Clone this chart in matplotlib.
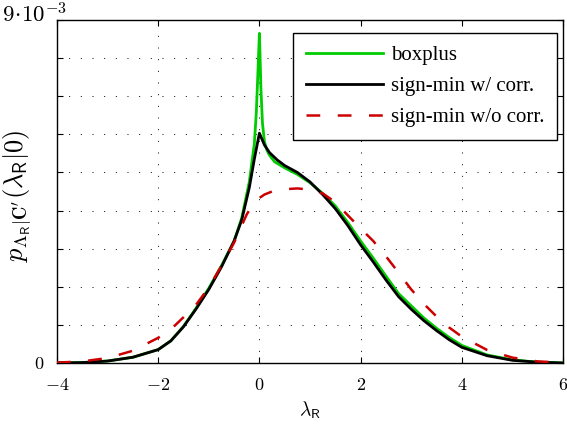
import numpy as np
import matplotlib
matplotlib.use("Agg")
import matplotlib.pyplot as plt
from matplotlib import rcParams

rcParams['mathtext.fontset'] = 'cm'
rcParams['font.family'] = ['Liberation Serif', 'DejaVu Serif']

# ===== data (values in units of 1e-3) =====
x_box = [-4, -3.5, -3, -2.5, -2, -1.75, -1.5, -1.25, -1, -0.75, -0.5, -0.35, -0.2,
         -0.1, -0.06, -0.03, -0.01, 0, 0.01, 0.03, 0.06, 0.1, 0.15, 0.2, 0.3, 0.5,
         0.75, 1.0, 1.25, 1.5, 1.75, 2, 2.25, 2.5, 2.75, 3, 3.25, 3.5, 3.75, 4,
         4.5, 5, 5.5, 6]
y_box = [0.0, 0.01, 0.05, 0.15, 0.35, 0.58, 0.96, 1.44, 1.96, 2.55, 3.2, 3.8, 4.75,
         5.75, 6.6, 7.6, 8.3, 8.65, 8.2, 7.2, 6.3, 5.8, 5.58, 5.45, 5.28, 5.12,
         4.95, 4.73, 4.45, 4.12, 3.68, 3.2, 2.75, 2.28, 1.82, 1.5, 1.18, 0.91, 0.67, 0.46,
         0.21, 0.08, 0.02, 0.0]

x_corr = [-4, -3.5, -3, -2.5, -2, -1.75, -1.5, -1.25, -1, -0.75, -0.5, -0.35, -0.2,
          -0.1, 0, 0.1, 0.2, 0.35, 0.5, 0.75, 1.0, 1.25, 1.5, 1.75, 2, 2.25, 2.5,
          2.75, 3, 3.25, 3.5, 3.75, 4, 4.5, 5, 5.5, 6]
y_corr = [0.0, 0.01, 0.05, 0.15, 0.35, 0.58, 0.95, 1.42, 1.93, 2.52, 3.2, 3.75, 4.6,
          5.35, 6.03, 5.72, 5.52, 5.33, 5.18, 5.0, 4.75, 4.42, 4.05, 3.6, 3.1, 2.65, 2.18,
          1.74, 1.41, 1.11, 0.85, 0.61, 0.41, 0.19, 0.07, 0.02, 0.0]

x_nocorr = [-4, -3.5, -3, -2.5, -2, -1.75, -1.5, -1.25, -1, -0.75, -0.5, -0.25, -0.1,
            0, 0.1, 0.25, 0.5, 0.75, 1.0, 1.25, 1.5, 1.75, 2, 2.25, 2.5, 2.75, 3,
            3.25, 3.5, 3.75, 4, 4.5, 5, 5.5, 6]
y_nocorr = [0.01, 0.04, 0.13, 0.32, 0.66, 0.88, 1.2, 1.53, 1.98, 2.55, 3.16, 3.9, 4.22,
            4.33, 4.42, 4.5, 4.56, 4.58, 4.55, 4.45, 4.22, 3.87, 3.53, 3.2, 2.8, 2.37, 1.93,
            1.55, 1.22, 0.93, 0.69, 0.34, 0.14, 0.04, 0.01]

x_ticks = [-4, -2, 0, 2, 4, 6]
y_ticks = np.arange(0, 10) * 1e-3

fig = plt.figure(figsize=(5.67, 4.26), dpi=100)
ax = fig.add_axes([0.1005, 0.148, 0.8925, 0.805])

ax.plot(x_box, np.array(y_box) * 1e-3, color='#00cc00', lw=2.0, label='boxplus', zorder=3)
ax.plot(x_corr, np.array(y_corr) * 1e-3, color='black', lw=2.0, label='sign-min w/ corr.', zorder=4)
ax.plot(x_nocorr, np.array(y_nocorr) * 1e-3, color='#cc0000', lw=1.8, ls=(0, (5.5, 7)),
        label='sign-min w/o corr.', zorder=5)

ax.set_xlim(-4, 6)
ax.set_ylim(0, 9e-3)
ax.set_xticks(x_ticks)
ax.set_xticklabels([rf'${t}$' if t >= 0 else rf'$-{abs(t)}$' for t in x_ticks], fontsize=13)
ax.set_yticks(y_ticks)
ylabels = [''] * len(y_ticks)
ylabels[0] = r'$0$'
ax.set_yticklabels(ylabels, fontsize=13)
ax.tick_params(direction='in', top=True, right=True, length=4, width=0.8)
ax.tick_params(axis='x', pad=10)
ax.tick_params(axis='y', pad=9)
ax.text(-3.8, 9.12e-3, r'$9\!\cdot\!10^{-3}$', fontsize=16.5, ha='right', va='center')
ax.grid(True, ls=(0, (1, 11)), color='black', lw=0.7)
for s in ax.spines.values():
    s.set_linewidth(1.0)

ax.set_xlabel(r'$\lambda_\mathsf{R}$', fontsize=14, labelpad=4)
ax.set_ylabel(r"$p_{\Lambda_\mathsf{R}|\mathbf{C}'}(\lambda_\mathsf{R}|0)$", fontsize=19)
ax.yaxis.set_label_coords(-0.046, 0.487)

leg = ax.legend(loc='upper right', bbox_to_anchor=(0.988, 0.962), borderaxespad=0,
                fontsize=15, fancybox=False, edgecolor='black', framealpha=1,
                handlelength=3.7, handletextpad=0.4, labelspacing=0.55, borderpad=0.6)
leg.get_frame().set_linewidth(1.0)

plt.savefig('out.png', dpi=100)
